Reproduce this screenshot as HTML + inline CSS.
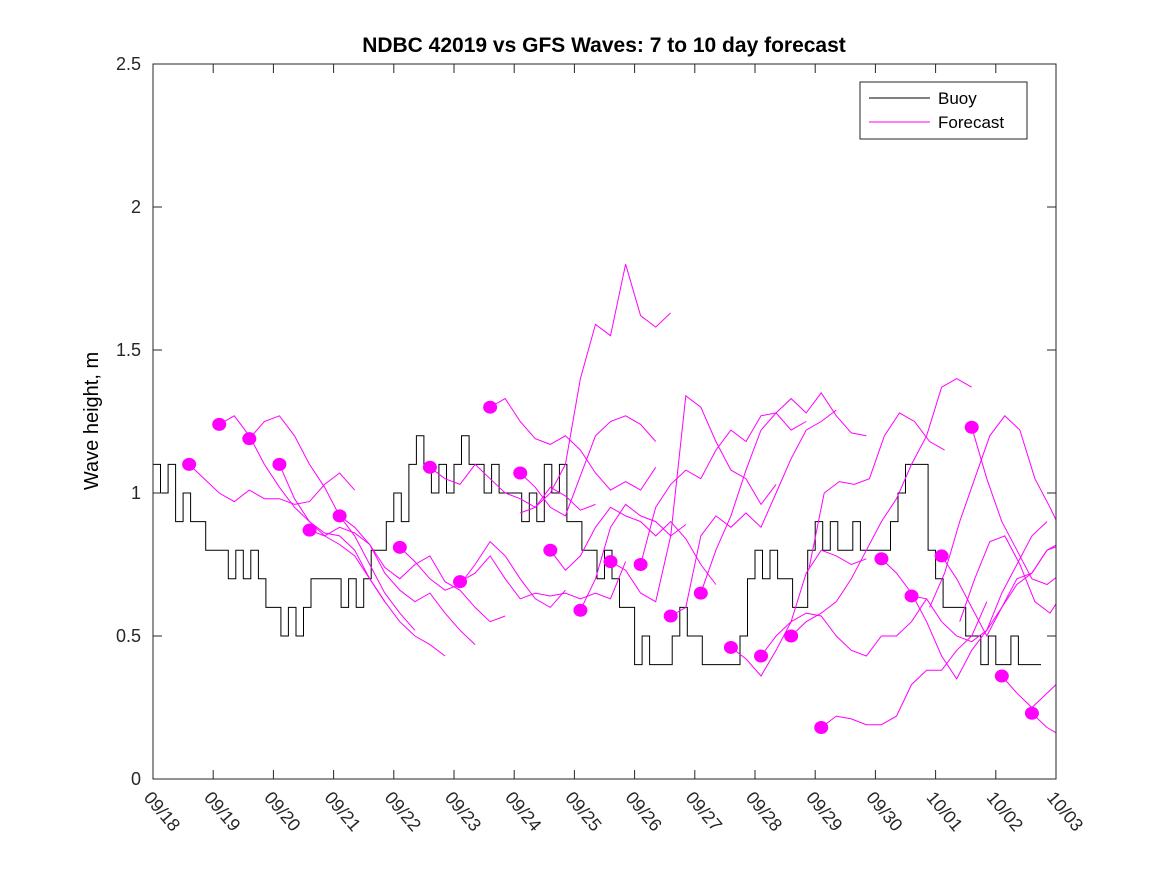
<!DOCTYPE html>
<html><head><meta charset="utf-8"><style>
body{margin:0;background:#fff;}
svg{font-family:"Liberation Sans",sans-serif;}
</style></head><body>
<svg id="chart" width="1167" height="875" xmlns="http://www.w3.org/2000/svg">
<rect width="1167" height="875" fill="#fff"/>
<text x="604" y="52" text-anchor="middle" font-size="21" font-weight="bold">NDBC 42019 vs GFS Waves: 7 to 10 day forecast</text>
<text transform="translate(98,421) rotate(-90)" text-anchor="middle" font-size="20">Wave height, m</text>
<g id="plot"></g>
<rect x="153" y="64" width="903" height="715" fill="none" stroke="#262626" stroke-width="1"/>
<g id="ticks"></g>
<g>
<rect x="860" y="82" width="167" height="57" fill="#fff" stroke="#262626"/>
<line x1="869" y1="98" x2="930" y2="98" stroke="#000"/>
<text x="938" y="104" font-size="17">Buoy</text>
<line x1="869" y1="122" x2="930" y2="122" stroke="#f0f"/>
<text x="938" y="128" font-size="17">Forecast</text>
</g>
</svg>
<script>
const xLabels=["09/18","09/19","09/20","09/21","09/22","09/23","09/24","09/25","09/26","09/27","09/28","09/29","09/30","10/01","10/02","10/03"];
const yTicks=[0,0.5,1,1.5,2,2.5];
const buoyStep=0.125;
const buoy=[1.1,1.0,1.1,0.9,1.0,0.9,0.9,0.8,
0.8,0.8,0.7,0.8,0.7,0.8,0.7,0.6,
0.6,0.5,0.6,0.5,0.6,0.7,0.7,0.7,
0.7,0.6,0.7,0.6,0.7,0.8,0.8,0.9,
1.0,0.9,1.1,1.2,1.1,1.0,1.1,1.0,
1.1,1.2,1.1,1.1,1.0,1.1,1.0,1.0,
1.0,0.9,1.0,0.9,1.1,1.0,1.1,0.9,
0.9,0.8,0.8,0.7,0.8,0.7,0.6,0.6,
0.4,0.5,0.4,0.4,0.4,0.5,0.6,0.5,
0.5,0.4,0.4,0.4,0.4,0.4,0.5,0.7,
0.8,0.7,0.8,0.7,0.7,0.6,0.6,0.8,
0.9,0.8,0.9,0.8,0.8,0.9,0.8,0.8,
0.8,0.8,0.9,1.0,1.1,1.1,1.1,0.8,
0.7,0.6,0.6,0.6,0.5,0.5,0.4,0.5,
0.4,0.4,0.5,0.4,0.4,0.4];
const fcStep=0.25;
const fcStart=[0.6,1.1,1.6,2.1,2.6,3.1,4.1,4.6,5.1,5.6,6.1,6.1,7.1,7.6,8.1,8.6,9.1,9.6,10.1,10.6,11.1,12.1,12.6,13.1,13.6,14.1,14.6,12.9,13.4,10.9,6.6];
const fcDot=[1,1,1,1,1,1,1,1,1,1,1,0,1,1,1,1,1,1,1,1,1,1,1,1,1,1,1,0,0,0,1];
const fc0=[1.10,1.05,1.00,0.97,1.01,0.98,0.98,0.96,0.97,1.03,1.07,1.01];
const fc1=[1.24,1.27,1.20,1.10,1.02,0.95,0.90,0.86,0.85,0.80,0.70,0.62];
const fc2=[1.19,1.25,1.27,1.20,1.10,1.02,0.92,0.85,0.75,0.65,0.58,0.52];
const fc3=[1.10,0.98,0.90,0.85,0.82,0.78,0.70,0.62,0.55,0.50,0.47,0.43];
const fc4=[0.87,0.85,0.88,0.86,0.82,0.72,0.66,0.62,0.65,0.58,0.52,0.47];
const fc5=[0.92,0.88,0.82,0.74,0.70,0.75,0.78,0.69,0.66,0.60,0.55,0.57];
const fc6=[0.81,0.76,0.70,0.66,0.68,0.75,0.83,0.78,0.70,0.63,0.60,0.66];
const fc7=[1.09,1.05,1.03,1.10,1.05,1.00,0.98,0.95,1.02,0.99,0.94,0.96];
const fc8=[0.69,0.72,0.78,0.70,0.63,0.65,0.64,0.65,0.63,0.65,0.63,0.76];
const fc9=[1.30,1.33,1.25,1.19,1.17,1.20,1.15,1.07,1.01,1.04,1.01,1.09];
const fc10=[1.07,1.02,0.95,0.92,1.06,1.20,1.25,1.27,1.24,1.18];
const fc11=[0.93,0.95,1.00,1.10,1.40,1.59,1.55,1.80,1.62,1.58,1.63];
const fc12=[0.59,0.70,0.88,0.96,0.92,0.90,0.85,0.89];
const fc13=[0.76,0.73,0.65,0.62,0.85,1.34,1.30,1.18,1.08,1.05,0.96,1.03];
const fc14=[0.75,0.95,1.03,1.08,1.05,1.15,1.22,1.18,1.27,1.28,1.22,1.25];
const fc15=[0.57,0.60,0.85,0.92,0.88,0.93,0.88,1.00,1.12,1.22,1.25,1.29];
const fc16=[0.65,0.80,0.92,1.08,1.22,1.28,1.33,1.28,1.35,1.27,1.21,1.20];
const fc17=[0.46,0.42,0.36,0.45,0.55,0.72,0.80,0.78,0.75,0.77];
const fc18=[0.43,0.50,0.55,0.58,0.57,0.50,0.45,0.43,0.50,0.50,0.55,0.63];
const fc19=[0.50,0.55,0.58,0.62,0.70,0.80,0.90,0.98,1.10,1.20,1.37,1.40,1.37];
const fc20=[0.18,0.22,0.21,0.19,0.19,0.22,0.33,0.38,0.38,0.45,0.50,0.62];
const fc21=[0.77,0.72,0.65,0.55,0.43,0.35,0.45,0.52,0.65,0.75,0.85,0.90];
const fc22=[0.64,0.63,0.55,0.50,0.48,0.52,0.60,0.70,0.72,0.80,0.83,0.80];
const fc23=[0.78,0.70,0.60,0.50,0.60,0.68,0.72,0.80,0.82,0.78,0.70,0.68];
const fc24=[1.23,1.05,0.90,0.80,0.70,0.68,0.72,0.70,0.65];
const fc25=[0.36,0.30,0.25,0.30,0.35,0.38];
const fc26=[0.23,0.18,0.15];
const fc27=[0.60,0.72,0.90,1.05,1.20,1.27,1.22,1.05,0.95,0.84,0.88,1.00];
const fc28=[0.55,0.70,0.83,0.85,0.75,0.62,0.58,0.66,0.70,0.90,1.12,1.22];
const fc29=[0.74,1.00,1.04,1.03,1.05,1.20,1.28,1.25,1.18,1.15];
const fc30=[0.80,0.73,0.78,0.88,0.95,0.92,0.90,0.85,0.90,0.84,0.75,0.68];
const fcSeries=[fc0,fc1,fc2,fc3,fc4,fc5,fc6,fc7,fc8,fc9,fc10,fc11,fc12,fc13,fc14,fc15,fc16,fc17,fc18,fc19,fc20,fc21,fc22,fc23,fc24,fc25,fc26,fc27,fc28,fc29,fc30];

const NS="http://www.w3.org/2000/svg";
const X0=153,X1=1056,Y0=779,Y1=64,DAYS=15,YMAX=2.5;
function xs(d){return X0+(X1-X0)*d/DAYS;}
function ys(v){return Y0-(Y0-Y1)*v/YMAX;}
const plot=document.getElementById('plot');
const ticks=document.getElementById('ticks');
const clip=document.createElementNS(NS,'clipPath');clip.setAttribute('id','pc');
const cr=document.createElementNS(NS,'rect');cr.setAttribute('x',X0);cr.setAttribute('y',Y1);cr.setAttribute('width',X1-X0);cr.setAttribute('height',Y0-Y1);
clip.appendChild(cr);plot.appendChild(clip);
const g=document.createElementNS(NS,'g');g.setAttribute('clip-path','url(#pc)');plot.appendChild(g);

let d="";
buoy.forEach((v,i)=>{const xa=xs(i*buoyStep),xb=xs((i+1)*buoyStep);d+=(i===0?"M":"L")+xa.toFixed(1)+","+ys(v).toFixed(1)+"L"+xb.toFixed(1)+","+ys(v).toFixed(1);});
const bp=document.createElementNS(NS,'path');


bp.setAttribute('d',d);bp.setAttribute('fill','none');bp.setAttribute('stroke','#000');bp.setAttribute('stroke-width','1');
g.appendChild(bp);

fcSeries.forEach((s,k)=>{
  const st=fcStart[k];
  const pts=s.map((v,i)=>xs(st+i*fcStep).toFixed(1)+","+ys(v).toFixed(1)).join(" ");
  const pl=document.createElementNS(NS,'polyline');
  
  
  pl.setAttribute('points',pts);pl.setAttribute('fill','none');pl.setAttribute('stroke','#f0f');pl.setAttribute('stroke-width','1');
  g.appendChild(pl);
});
fcSeries.forEach((s,k)=>{
  if(!fcDot[k])return;
  const c=document.createElementNS(NS,'ellipse');
  
  
  c.setAttribute('cx',xs(fcStart[k]));c.setAttribute('cy',ys(s[0]));c.setAttribute('rx',7);c.setAttribute('ry',6.5);c.setAttribute('fill','#f0f');
  g.appendChild(c);
});

yTicks.forEach(v=>{
  const y=ys(v);
  [[X0,X0+9],[X1,X1-9]].forEach(p=>{const l=document.createElementNS(NS,'line');
  
  
  l.setAttribute('x1',p[0]);l.setAttribute('x2',p[1]);l.setAttribute('y1',y);l.setAttribute('y2',y);l.setAttribute('stroke','#262626');ticks.appendChild(l);});
  const t=document.createElementNS(NS,'text');
  
  
  t.setAttribute('x',141);t.setAttribute('y',y+6);t.setAttribute('text-anchor','end');t.setAttribute('font-size','18');t.setAttribute('fill','#262626');
  t.textContent=String(v);ticks.appendChild(t);
});
xLabels.forEach((lab,i)=>{
  const x=xs(i);
  [[Y0,Y0-9],[Y1,Y1+9]].forEach(p=>{const l=document.createElementNS(NS,'line');
  
  
  l.setAttribute('x1',x);l.setAttribute('x2',x);l.setAttribute('y1',p[0]);l.setAttribute('y2',p[1]);l.setAttribute('stroke','#262626');ticks.appendChild(l);});
  const t=document.createElementNS(NS,'text');
  
  
  t.setAttribute('transform','translate('+(x-10)+',798) rotate(50)');t.setAttribute('font-size','18');t.setAttribute('fill','#262626');
  t.textContent=lab;ticks.appendChild(t);
});
</script>
</body></html>
